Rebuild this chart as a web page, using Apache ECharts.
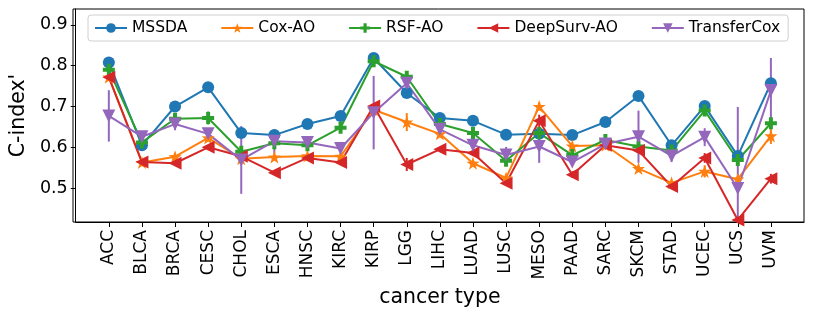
<!DOCTYPE html>
<html>
<head>
<meta charset="utf-8">
<script src="https://cdn.jsdelivr.net/npm/echarts@6/dist/echarts.min.js"></script>
<style>
  html, body { margin: 0; padding: 0; background: #fff; }
  #chart { width: 814px; height: 321px; }
</style>
</head>
<body>
<div id="chart"></div>
<script>
  var cancerTypes = ['ACC', 'BLCA', 'BRCA', 'CESC', 'CHOL', 'ESCA', 'HNSC', 'KIRC', 'KIRP', 'LGG', 'LIHC',
    'LUAD', 'LUSC', 'MESO', 'PAAD', 'SARC', 'SKCM', 'STAD', 'UCEC', 'UCS', 'UVM'];
  var yTicks = [0.5, 0.6, 0.7, 0.8, 0.9];

  var mssda      = [0.808, 0.605, 0.700, 0.747, 0.635, 0.630, 0.657, 0.677, 0.819, 0.733, 0.672, 0.665, 0.631, 0.633, 0.630, 0.662, 0.726, 0.605, 0.701, 0.579, 0.757];
  var mssdaErr   = [0.005, 0.005, 0.004, 0.005, 0.006, 0.005, 0.004, 0.005, 0.005, 0.006, 0.004, 0.004, 0.004, 0.004, 0.004, 0.004, 0.012, 0.005, 0.006, 0.008, 0.012];
  var coxAO      = [0.772, 0.563, 0.577, 0.623, 0.572, 0.576, 0.579, 0.578, 0.692, 0.662, 0.633, 0.561, 0.525, 0.700, 0.603, 0.605, 0.548, 0.513, 0.541, 0.522, 0.628];
  var coxAOErr   = [0.008, 0.006, 0.006, 0.008, 0.006, 0.006, 0.005, 0.006, 0.006, 0.022, 0.006, 0.006, 0.006, 0.010, 0.006, 0.006, 0.006, 0.005, 0.015, 0.008, 0.020];
  var rsfAO      = [0.790, 0.612, 0.670, 0.672, 0.589, 0.610, 0.605, 0.648, 0.811, 0.773, 0.657, 0.635, 0.567, 0.635, 0.581, 0.618, 0.602, 0.592, 0.690, 0.569, 0.659];
  var rsfAOErr   = [0.006, 0.006, 0.006, 0.016, 0.008, 0.006, 0.006, 0.010, 0.006, 0.008, 0.006, 0.008, 0.008, 0.008, 0.008, 0.006, 0.006, 0.006, 0.008, 0.010, 0.012];
  var deepSurvAO = [0.772, 0.564, 0.561, 0.600, 0.578, 0.538, 0.574, 0.563, 0.701, 0.558, 0.595, 0.586, 0.512, 0.665, 0.533, 0.605, 0.592, 0.504, 0.574, 0.422, 0.523];
  var deepSurvAOErr = [0.008, 0.006, 0.006, 0.006, 0.006, 0.005, 0.006, 0.006, 0.006, 0.016, 0.005, 0.006, 0.006, 0.015, 0.008, 0.006, 0.006, 0.006, 0.012, 0.006, 0.012];
  var transferCox = [0.677, 0.626, 0.657, 0.633, 0.569, 0.615, 0.612, 0.597, 0.685, 0.757, 0.644, 0.605, 0.581, 0.602, 0.564, 0.608, 0.626, 0.579, 0.625, 0.499, 0.739];
  var transferCoxErr = [0.063, 0.010, 0.015, 0.010, 0.083, 0.030, 0.015, 0.008, 0.090, 0.015, 0.015, 0.008, 0.020, 0.040, 0.008, 0.012, 0.064, 0.015, 0.022, 0.200, 0.080];

  var starPath = 'path://M0,-10 L2.35,-3.24 L9.51,-3.09 L3.8,1.24 L5.88,8.09 L0,4 L-5.88,8.09 L-3.8,1.24 L-9.51,-3.09 L-2.35,-3.24 Z';
  var plusPath = 'path://M-1,-3 H1 V-1 H3 V1 H1 V3 H-1 V1 H-3 V-1 H-1 Z';

  var methods = [
    {name: 'MSSDA', values: mssda, errs: mssdaErr, color: '#1f77b4', symbol: 'circle', size: 12, rotate: 0},
    {name: 'Cox-AO', values: coxAO, errs: coxAOErr, color: '#ff7f0e', symbol: starPath, size: 13, rotate: 0},
    {name: 'RSF-AO', values: rsfAO, errs: rsfAOErr, color: '#2ca02c', symbol: plusPath, size: 12, rotate: 0},
    {name: 'DeepSurv-AO', values: deepSurvAO, errs: deepSurvAOErr, color: '#d62728', symbol: 'triangle', size: 13, rotate: 90},
    {name: 'TransferCox', values: transferCox, errs: transferCoxErr, color: '#9467bd', symbol: 'triangle', size: 13, rotate: 180}
  ];

  var series = [];
  methods.forEach(function (m) {
    series.push({
      name: m.name + '_err',
      type: 'custom',
      clip: true,
      silent: true,
      z: 1,
      data: m.values.map(function (v, i) { return [i, v - m.errs[i], v + m.errs[i]]; }),
      renderItem: function (params, api) {
        var lo = api.coord([api.value(0), api.value(1)]);
        var hi = api.coord([api.value(0), api.value(2)]);
        return {
          type: 'line',
          shape: {x1: lo[0], y1: lo[1], x2: hi[0], y2: hi[1]},
          style: {stroke: m.color, lineWidth: 2}
        };
      }
    });
    series.push({
      name: m.name,
      type: 'line',
      z: 2,
      clip: true,
      symbol: m.symbol,
      symbolSize: m.size,
      symbolRotate: m.rotate,
      showAllSymbol: true,
      itemStyle: {color: m.color},
      lineStyle: {color: m.color, width: 2},
      data: m.values.map(function (v, i) { return [i, v]; })
    });
  });

  var chart = echarts.init(document.getElementById('chart'));
  chart.setOption({
    animation: false,
    textStyle: {fontFamily: 'DejaVu Sans'},
    grid: {left: 73, right: 10, top: 9, bottom: 99},
    legend: {
      data: methods.map(function (m) { return m.name; }),
      left: 88,
      top: 15,
      itemWidth: 32,
      itemHeight: 12,
      itemGap: 33,
      padding: [5, 8, 5, 6],
      borderColor: '#d0d0d0',
      borderWidth: 1,
      borderRadius: 3,
      backgroundColor: 'rgba(255,255,255,0.8)',
      textStyle: {fontSize: 15.5, color: '#000', fontFamily: 'DejaVu Sans'}
    },
    xAxis: {
      type: 'value',
      min: -1,
      max: 21,
      name: 'cancer type',
      nameLocation: 'middle',
      nameGap: 63,
      nameTextStyle: {fontSize: 20.5, color: '#000', fontFamily: 'DejaVu Sans'},
      splitLine: {show: false},
      axisLine: {onZero: false, lineStyle: {color: '#000', width: 1}},
      axisTick: {
        customValues: cancerTypes.map(function (c, i) { return i; }),
        length: 5,
        lineStyle: {color: '#000'}
      },
      axisLabel: {
        customValues: cancerTypes.map(function (c, i) { return i; }),
        rotate: 90,
        fontSize: 17,
        color: '#000',
        margin: 8,
        formatter: function (v) { return cancerTypes[Math.round(v)] || ''; }
      }
    },
    yAxis: {
      type: 'value',
      min: 0.417,
      max: 0.939,
      name: "C-index'",
      nameLocation: 'middle',
      nameGap: 40,
      nameTextStyle: {fontSize: 20.5, color: '#000', fontFamily: 'DejaVu Sans'},
      splitLine: {show: false},
      axisLine: {show: true, onZero: false, lineStyle: {color: '#000', width: 1}},
      axisTick: {show: true, customValues: yTicks, length: 5, lineStyle: {color: '#000'}},
      axisLabel: {
        customValues: yTicks,
        fontSize: 17.5,
        color: '#000',
        margin: 8,
        formatter: function (v) { return v.toFixed(1); }
      }
    },
    series: series
  });
  // frame on the top and right like matplotlib spines
  chart.setOption({
    graphic: [{
      type: 'rect',
      shape: {x: 73, y: 9, width: 731, height: 213},
      style: {fill: null, stroke: '#000', lineWidth: 1},
      silent: true,
      z: 0
    }]
  });
</script>
</body>
</html>
